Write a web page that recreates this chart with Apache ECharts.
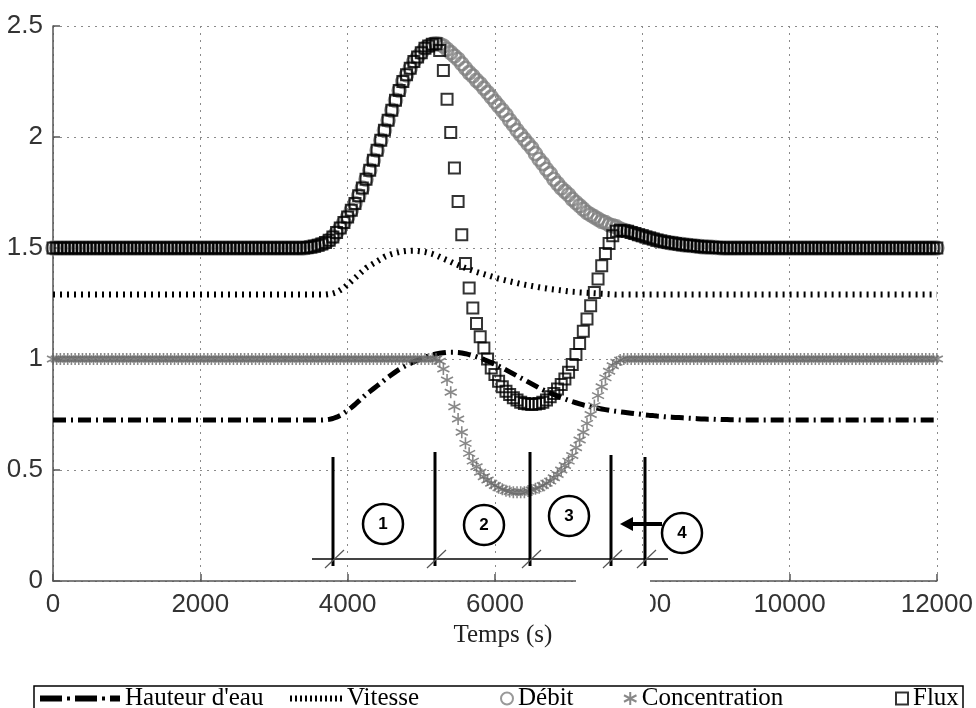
<!DOCTYPE html>
<html><head><meta charset="utf-8">
<script src="https://cdn.jsdelivr.net/npm/echarts@6/dist/echarts.min.js"></script>
<style>html,body{margin:0;padding:0;background:#fff}#c{width:976px;height:708px}</style>
</head><body><div id="c"></div>
<script>
// Time axis (s), one sample every 50 s
const time = [
0,50,100,150,200,250,300,350,400,450,
500,550,600,650,700,750,800,850,900,950,
1000,1050,1100,1150,1200,1250,1300,1350,1400,1450,
1500,1550,1600,1650,1700,1750,1800,1850,1900,1950,
2000,2050,2100,2150,2200,2250,2300,2350,2400,2450,
2500,2550,2600,2650,2700,2750,2800,2850,2900,2950,
3000,3050,3100,3150,3200,3250,3300,3350,3400,3450,
3500,3550,3600,3650,3700,3750,3800,3850,3900,3950,
4000,4050,4100,4150,4200,4250,4300,4350,4400,4450,
4500,4550,4600,4650,4700,4750,4800,4850,4900,4950,
5000,5050,5100,5150,5200,5250,5300,5350,5400,5450,
5500,5550,5600,5650,5700,5750,5800,5850,5900,5950,
6000,6050,6100,6150,6200,6250,6300,6350,6400,6450,
6500,6550,6600,6650,6700,6750,6800,6850,6900,6950,
7000,7050,7100,7150,7200,7250,7300,7350,7400,7450,
7500,7550,7600,7650,7700,7750,7800,7850,7900,7950,
8000,8050,8100,8150,8200,8250,8300,8350,8400,8450,
8500,8550,8600,8650,8700,8750,8800,8850,8900,8950,
9000,9050,9100,9150,9200,9250,9300,9350,9400,9450,
9500,9550,9600,9650,9700,9750,9800,9850,9900,9950,
10000,10050,10100,10150,10200,10250,10300,10350,10400,10450,
10500,10550,10600,10650,10700,10750,10800,10850,10900,10950,
11000,11050,11100,11150,11200,11250,11300,11350,11400,11450,
11500,11550,11600,11650,11700,11750,11800,11850,11900,11950,
12000];

const hauteurEau = [
0.725,0.725,0.725,0.725,0.725,0.725,0.725,0.725,0.725,0.725,
0.725,0.725,0.725,0.725,0.725,0.725,0.725,0.725,0.725,0.725,
0.725,0.725,0.725,0.725,0.725,0.725,0.725,0.725,0.725,0.725,
0.725,0.725,0.725,0.725,0.725,0.725,0.725,0.725,0.725,0.725,
0.725,0.725,0.725,0.725,0.725,0.725,0.725,0.725,0.725,0.725,
0.725,0.725,0.725,0.725,0.725,0.725,0.725,0.725,0.725,0.725,
0.725,0.725,0.725,0.725,0.725,0.725,0.725,0.725,0.725,0.725,
0.725,0.725,0.725,0.725,0.726,0.728,0.732,0.738,0.746,0.756,
0.768,0.781,0.795,0.81,0.825,0.84,0.853,0.866,0.879,0.892,
0.905,0.918,0.93,0.942,0.953,0.963,0.972,0.98,0.988,0.995,
1.002,1.008,1.014,1.019,1.023,1.026,1.028,1.03,1.03,1.03,
1.029,1.027,1.024,1.02,1.015,1.01,1.004,0.998,0.991,0.984,
0.976,0.968,0.96,0.951,0.942,0.933,0.924,0.915,0.906,0.897,
0.888,0.879,0.87,0.862,0.854,0.847,0.84,0.833,0.826,0.82,
0.814,0.808,0.803,0.798,0.793,0.789,0.785,0.781,0.778,0.775,
0.772,0.769,0.766,0.764,0.762,0.76,0.758,0.756,0.754,0.752,
0.75,0.748,0.746,0.745,0.743,0.742,0.74,0.739,0.738,0.737,
0.736,0.735,0.734,0.733,0.732,0.731,0.73,0.73,0.729,0.729,
0.728,0.728,0.727,0.727,0.726,0.726,0.726,0.725,0.725,0.725,
0.725,0.725,0.725,0.725,0.725,0.725,0.725,0.725,0.725,0.725,
0.725,0.725,0.725,0.725,0.725,0.725,0.725,0.725,0.725,0.725,
0.725,0.725,0.725,0.725,0.725,0.725,0.725,0.725,0.725,0.725,
0.725,0.725,0.725,0.725,0.725,0.725,0.725,0.725,0.725,0.725,
0.725,0.725,0.725,0.725,0.725,0.725,0.725,0.725,0.725,0.725,
0.725];

const vitesse = [
1.29,1.29,1.29,1.29,1.29,1.29,1.29,1.29,1.29,1.29,
1.29,1.29,1.29,1.29,1.29,1.29,1.29,1.29,1.29,1.29,
1.29,1.29,1.29,1.29,1.29,1.29,1.29,1.29,1.29,1.29,
1.29,1.29,1.29,1.29,1.29,1.29,1.29,1.29,1.29,1.29,
1.29,1.29,1.29,1.29,1.29,1.29,1.29,1.29,1.29,1.29,
1.29,1.29,1.29,1.29,1.29,1.29,1.29,1.29,1.29,1.29,
1.29,1.29,1.29,1.29,1.29,1.29,1.29,1.29,1.29,1.29,
1.29,1.29,1.29,1.29,1.29,1.292,1.295,1.30,1.31,1.32,
1.335,1.35,1.365,1.38,1.395,1.41,1.42,1.43,1.44,1.45,
1.46,1.467,1.473,1.478,1.482,1.485,1.487,1.488,1.488,1.487,
1.485,1.482,1.478,1.473,1.467,1.46,1.452,1.445,1.438,1.43,
1.423,1.416,1.41,1.404,1.398,1.392,1.387,1.382,1.377,1.372,
1.367,1.362,1.358,1.354,1.35,1.346,1.342,1.338,1.335,1.332,
1.329,1.326,1.323,1.32,1.318,1.315,1.313,1.311,1.309,1.307,
1.305,1.303,1.302,1.30,1.299,1.298,1.297,1.296,1.295,1.294,
1.293,1.292,1.291,1.29,1.29,1.29,1.29,1.29,1.29,1.29,
1.29,1.29,1.29,1.29,1.29,1.29,1.29,1.29,1.29,1.29,
1.29,1.29,1.29,1.29,1.29,1.29,1.29,1.29,1.29,1.29,
1.29,1.29,1.29,1.29,1.29,1.29,1.29,1.29,1.29,1.29,
1.29,1.29,1.29,1.29,1.29,1.29,1.29,1.29,1.29,1.29,
1.29,1.29,1.29,1.29,1.29,1.29,1.29,1.29,1.29,1.29,
1.29,1.29,1.29,1.29,1.29,1.29,1.29,1.29,1.29,1.29,
1.29,1.29,1.29,1.29,1.29,1.29,1.29,1.29,1.29,1.29,
1.29,1.29,1.29,1.29,1.29,1.29,1.29,1.29,1.29,1.29,
1.29];

const debit = [
1.5,1.5,1.5,1.5,1.5,1.5,1.5,1.5,1.5,1.5,
1.5,1.5,1.5,1.5,1.5,1.5,1.5,1.5,1.5,1.5,
1.5,1.5,1.5,1.5,1.5,1.5,1.5,1.5,1.5,1.5,
1.5,1.5,1.5,1.5,1.5,1.5,1.5,1.5,1.5,1.5,
1.5,1.5,1.5,1.5,1.5,1.5,1.5,1.5,1.5,1.5,
1.5,1.5,1.5,1.5,1.5,1.5,1.5,1.5,1.5,1.5,
1.5,1.5,1.5,1.5,1.5,1.5,1.5,1.5,1.5,1.502,
1.505,1.508,1.512,1.518,1.525,1.535,1.55,1.57,1.59,1.615,
1.64,1.67,1.70,1.735,1.77,1.81,1.85,1.895,1.94,1.985,
2.03,2.075,2.12,2.165,2.21,2.25,2.28,2.31,2.34,2.36,
2.38,2.40,2.41,2.418,2.42,2.418,2.41,2.395,2.38,2.365,
2.35,2.33,2.31,2.29,2.275,2.255,2.24,2.22,2.20,2.18,
2.16,2.14,2.12,2.10,2.075,2.055,2.03,2.01,1.99,1.97,
1.95,1.925,1.90,1.88,1.855,1.835,1.81,1.79,1.77,1.755,
1.74,1.72,1.705,1.69,1.675,1.66,1.65,1.64,1.63,1.62,
1.615,1.605,1.60,1.595,1.585,1.58,1.575,1.57,1.565,1.56,
1.555,1.55,1.545,1.54,1.535,1.532,1.528,1.525,1.522,1.52,
1.517,1.515,1.513,1.511,1.51,1.508,1.506,1.505,1.504,1.503,
1.502,1.501,1.5,1.5,1.5,1.5,1.5,1.5,1.5,1.5,
1.5,1.5,1.5,1.5,1.5,1.5,1.5,1.5,1.5,1.5,
1.5,1.5,1.5,1.5,1.5,1.5,1.5,1.5,1.5,1.5,
1.5,1.5,1.5,1.5,1.5,1.5,1.5,1.5,1.5,1.5,
1.5,1.5,1.5,1.5,1.5,1.5,1.5,1.5,1.5,1.5,
1.5,1.5,1.5,1.5,1.5,1.5,1.5,1.5,1.5,1.5,
1.5];

const concentration = [
1,1,1,1,1,1,1,1,1,1,
1,1,1,1,1,1,1,1,1,1,
1,1,1,1,1,1,1,1,1,1,
1,1,1,1,1,1,1,1,1,1,
1,1,1,1,1,1,1,1,1,1,
1,1,1,1,1,1,1,1,1,1,
1,1,1,1,1,1,1,1,1,1,
1,1,1,1,1,1,1,1,1,1,
1,1,1,1,1,1,1,1,1,1,
1,1,1,1,1,1,1,1,1,1,
1,1,1,1,1,0.99,0.955,0.905,0.85,0.785,
0.73,0.67,0.62,0.575,0.54,0.515,0.49,0.47,0.455,0.44,
0.43,0.42,0.413,0.407,0.403,0.40,0.40,0.40,0.40,0.405,
0.41,0.415,0.42,0.43,0.44,0.45,0.465,0.48,0.50,0.52,
0.54,0.565,0.60,0.635,0.67,0.71,0.75,0.79,0.835,0.875,
0.915,0.945,0.97,0.985,0.995,1,1,1,1,1,
1,1,1,1,1,1,1,1,1,1,
1,1,1,1,1,1,1,1,1,1,
1,1,1,1,1,1,1,1,1,1,
1,1,1,1,1,1,1,1,1,1,
1,1,1,1,1,1,1,1,1,1,
1,1,1,1,1,1,1,1,1,1,
1,1,1,1,1,1,1,1,1,1,
1,1,1,1,1,1,1,1,1,1,
1];

const flux = [
1.5,1.5,1.5,1.5,1.5,1.5,1.5,1.5,1.5,1.5,
1.5,1.5,1.5,1.5,1.5,1.5,1.5,1.5,1.5,1.5,
1.5,1.5,1.5,1.5,1.5,1.5,1.5,1.5,1.5,1.5,
1.5,1.5,1.5,1.5,1.5,1.5,1.5,1.5,1.5,1.5,
1.5,1.5,1.5,1.5,1.5,1.5,1.5,1.5,1.5,1.5,
1.5,1.5,1.5,1.5,1.5,1.5,1.5,1.5,1.5,1.5,
1.5,1.5,1.5,1.5,1.5,1.5,1.5,1.5,1.5,1.502,
1.505,1.508,1.512,1.518,1.525,1.535,1.55,1.57,1.59,1.615,
1.64,1.67,1.70,1.735,1.77,1.81,1.85,1.895,1.94,1.985,
2.03,2.075,2.12,2.165,2.21,2.25,2.28,2.31,2.34,2.36,
2.38,2.40,2.41,2.418,2.42,2.39,2.30,2.17,2.02,1.86,
1.71,1.56,1.43,1.32,1.23,1.16,1.10,1.05,1.00,0.96,
0.93,0.90,0.875,0.855,0.84,0.825,0.815,0.805,0.80,0.797,
0.795,0.797,0.80,0.805,0.815,0.83,0.845,0.865,0.885,0.91,
0.94,0.975,1.02,1.07,1.125,1.18,1.24,1.30,1.36,1.42,
1.475,1.52,1.555,1.575,1.58,1.578,1.575,1.57,1.565,1.56,
1.555,1.55,1.545,1.54,1.535,1.532,1.528,1.525,1.522,1.52,
1.517,1.515,1.513,1.511,1.51,1.508,1.506,1.505,1.504,1.503,
1.502,1.501,1.5,1.5,1.5,1.5,1.5,1.5,1.5,1.5,
1.5,1.5,1.5,1.5,1.5,1.5,1.5,1.5,1.5,1.5,
1.5,1.5,1.5,1.5,1.5,1.5,1.5,1.5,1.5,1.5,
1.5,1.5,1.5,1.5,1.5,1.5,1.5,1.5,1.5,1.5,
1.5,1.5,1.5,1.5,1.5,1.5,1.5,1.5,1.5,1.5,
1.5,1.5,1.5,1.5,1.5,1.5,1.5,1.5,1.5,1.5,
1.5];

const seriesNames = ["Hauteur d'eau", "Vitesse", "Débit", "Concentration", "Flux"];
const xAxisTitle = 'Temps (s)';
const phaseLabels = ['1', '2', '3', '4'];

function pairs(values) { return time.map((t, i) => [t, values[i]]); }

const SANS = '"Liberation Sans", Arial, sans-serif';
const SERIF = '"Liberation Serif", "Times New Roman", serif';
const asterisk = 'path://M5,0L5,10M0.2,2.5L9.8,7.5M0.2,7.5L9.8,2.5';
const dashDotIcon = 'path://M0,0h22v6h-22zM27,1h3v4h-3zM35,0h22v6h-22zM62,1h3v4h-3zM70,0h10v6h-10z';
const dotIcon = 'path://M0,0h2v6h-2zM5,0h2v6h-2zM10,0h2v6h-2zM15,0h2v6h-2zM20,0h2v6h-2zM25,0h2v6h-2zM30,0h2v6h-2zM35,0h2v6h-2zM40,0h2v6h-2zM45,0h2v6h-2zM50,0h2v6h-2z';

function legendAt(name, left, icon, w, h) {
  return {
    data: [name], left: left, top: 686, padding: 0, orient: 'horizontal',
    icon: icon, itemWidth: w, itemHeight: h, selectedMode: false,
    textStyle: { fontFamily: SERIF, fontSize: 25, color: '#000', lineHeight: 25 }
  };
}

const gridSplit = { show: true, lineStyle: { color: '#8a8a8a', width: 1, type: [2, 5] } };
const axisLineStyle = { show: true, lineStyle: { color: '#555', width: 1.5 } };

const option = {
  animation: false,
  backgroundColor: '#fff',
  grid: { left: 53, right: 35, top: 26, bottom: 127, containLabel: false },
  xAxis: {
    type: 'value', min: 0, max: 12000, interval: 2000,
    axisLine: axisLineStyle,
    axisTick: { show: true, inside: true, length: 7, lineStyle: { color: '#555', width: 1.5 } },
    axisLabel: { fontFamily: SANS, fontSize: 26, color: '#333', margin: 11, formatter: v => String(v) },
    splitLine: gridSplit,
    name: xAxisTitle, nameLocation: 'middle', nameGap: 38,
    nameTextStyle: { fontFamily: SERIF, fontSize: 25, color: '#222', padding: [0, 0, 0, 16] }
  },
  yAxis: {
    type: 'value', min: 0, max: 2.5, interval: 0.5,
    axisLine: axisLineStyle,
    axisTick: { show: true, inside: true, length: 7, lineStyle: { color: '#555', width: 1.5 } },
    axisLabel: { fontFamily: SANS, fontSize: 26, color: '#333', margin: 10, formatter: v => String(v) },
    splitLine: gridSplit
  },
  legend: [
    legendAt(seriesNames[0], 40, dashDotIcon, 80, 6),
    legendAt(seriesNames[1], 290, dotIcon, 52, 6),
    legendAt(seriesNames[2], 500, 'circle', 12, 12),
    legendAt(seriesNames[3], 623, asterisk, 13, 13),
    legendAt(seriesNames[4], 895, 'rect', 12, 12)
  ],
  series: [
    {
      name: seriesNames[0], type: 'line', data: pairs(hauteurEau), showSymbol: false, z: 2,
      itemStyle: { color: '#000' },
      lineStyle: { color: '#000', width: 5, type: [13, 5, 2, 5] }
    },
    {
      name: seriesNames[1], type: 'line', data: pairs(vitesse), showSymbol: false, z: 3,
      itemStyle: { color: '#000' },
      lineStyle: { color: '#000', width: 6, type: [2, 5] }
    },
    {
      name: seriesNames[2], type: 'scatter', data: pairs(debit), z: 4,
      symbol: 'circle', symbolSize: 13,
      itemStyle: { color: 'rgba(0,0,0,0)', borderColor: '#808080', borderWidth: 2.6 }
    },
    {
      name: seriesNames[3], type: 'scatter', data: pairs(concentration), z: 5,
      symbol: asterisk, symbolSize: 12,
      itemStyle: { color: '#6a6a6a', borderColor: '#6a6a6a', borderWidth: 1.6 }
    },
    {
      name: seriesNames[4], type: 'scatter', data: pairs(flux), z: 6,
      symbol: 'rect', symbolSize: 11,
      itemStyle: { color: 'rgba(0,0,0,0)', borderColor: '#000', borderWidth: 2 }
    }
  ],
  graphic: []
};

// Annotations (phase markers), in pixel space of the figure
const vLinesX = [333, 435, 530, 611, 645];
const vLinesTop = [457, 452, 452, 455, 457];
const circles = [[383, 524], [484, 525], [569, 516], [682, 533]];
const g = [];
g.push({ type: 'rect', shape: { x: 576, y: 563, width: 74, height: 50 }, style: { fill: '#fff' }, z: 100 });
g.push({ type: 'line', shape: { x1: 312, y1: 559, x2: 668, y2: 559 }, style: { stroke: '#444', lineWidth: 2 }, z: 101 });
vLinesX.forEach((x, i) => {
  g.push({ type: 'line', shape: { x1: x, y1: vLinesTop[i], x2: x, y2: 566 }, style: { stroke: '#000', lineWidth: 3 }, z: 102 });
  g.push({ type: 'line', shape: { x1: x - 8, y1: 568, x2: x + 11, y2: 550 }, style: { stroke: '#555', lineWidth: 1.2 }, z: 102 });
});
circles.forEach((c, i) => {
  g.push({ type: 'circle', shape: { cx: c[0], cy: c[1], r: 20 }, style: { fill: '#fff', stroke: '#000', lineWidth: 2.5 }, z: 103 });
  g.push({ type: 'text', x: c[0], y: c[1], style: { text: phaseLabels[i], font: 'bold 17px ' + SANS, fill: '#000', align: 'center', verticalAlign: 'middle' }, z: 104 });
});
g.push({ type: 'line', shape: { x1: 662, y1: 524, x2: 630, y2: 524 }, style: { stroke: '#000', lineWidth: 4 }, z: 103 });
g.push({ type: 'polygon', shape: { points: [[620, 524], [633, 517], [633, 531]] }, style: { fill: '#000' }, z: 103 });
g.push({ type: 'rect', shape: { x: 34, y: 686, width: 929, height: 40 }, style: { fill: 'none', stroke: '#000', lineWidth: 1.5 }, z: 1 });
option.graphic = g;

const chart = echarts.init(document.getElementById('c'), null, { renderer: 'canvas' });
chart.setOption(option);
</script>
</body></html>
